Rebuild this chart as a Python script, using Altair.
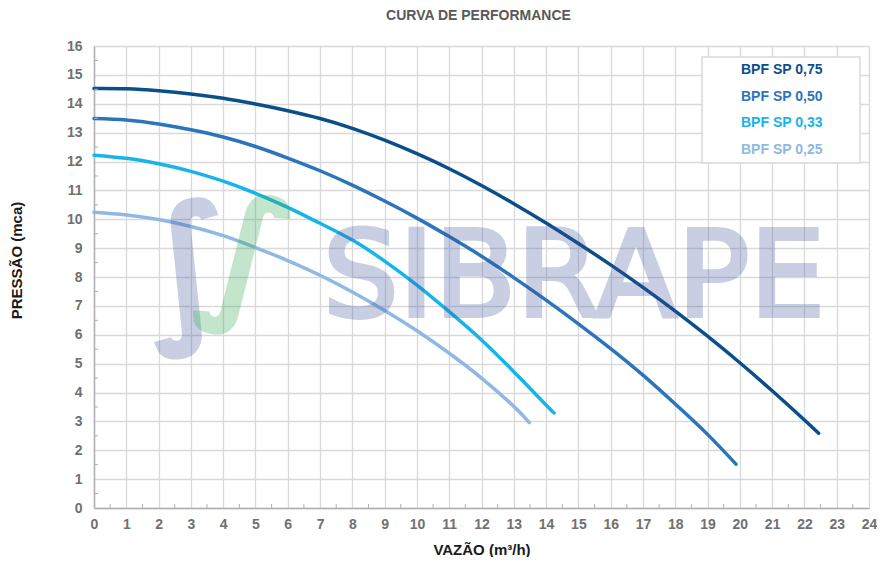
import altair as alt
import pandas as pd

# ---- data ----
series_names = ["BPF SP 0,75", "BPF SP 0,50", "BPF SP 0,33", "BPF SP 0,25"]
series_colors = ["#0b4f8a", "#2c74bb", "#17b4e9", "#8fb9e3"]

q_075 = [0, 1, 2, 3, 4, 5, 6, 7, 8, 9, 10, 11, 12, 13, 14, 15, 16, 17, 18, 19, 20, 21, 22, 22.44]
h_075 = [14.53, 14.52, 14.45, 14.34, 14.19, 13.99, 13.76, 13.49, 13.15, 12.74, 12.27, 11.75, 11.17,
         10.54, 9.87, 9.16, 8.42, 7.64, 6.82, 5.95, 5.03, 4.06, 3.05, 2.59]

q_050 = [0, 1, 2, 3, 4, 5, 6, 7, 8, 9, 10, 11, 12, 13, 14, 15, 16, 17, 18, 19, 19.88]
h_050 = [13.49, 13.44, 13.30, 13.10, 12.85, 12.52, 12.12, 11.68, 11.18, 10.63, 10.04, 9.40, 8.72,
         7.98, 7.20, 6.38, 5.52, 4.60, 3.60, 2.55, 1.52]

q_033 = [0, 1, 2, 3, 4, 5, 6, 7, 8, 9, 10, 11, 12, 13, 14, 14.25]
h_033 = [12.22, 12.11, 11.92, 11.66, 11.32, 10.90, 10.41, 9.86, 9.28, 8.55, 7.72, 6.80, 5.82,
         4.72, 3.57, 3.29]

q_025 = [0, 1, 2, 3, 4, 5, 6, 7, 8, 9, 10, 11, 12, 13, 13.48]
h_025 = [10.24, 10.15, 9.99, 9.75, 9.43, 9.02, 8.57, 8.06, 7.48, 6.84, 6.14, 5.36, 4.50, 3.52, 2.96]

x_ticks = list(range(0, 25))
y_ticks = list(range(0, 17))
x_minor = [0.5, 1.5, 2.5, 3.5, 4.5, 5.5, 6.5, 7.5, 8.5, 9.5, 10.5, 11.5, 12.5, 13.5, 14.5, 15.5,
           16.5, 17.5, 18.5, 19.5, 20.5, 21.5, 22.5, 23.5]
y_minor = [0.5, 1.5, 2.5, 3.5, 4.5, 5.5, 6.5, 7.5, 8.5, 9.5, 10.5, 11.5, 12.5, 13.5, 14.5, 15.5]

rows = []
for name, qs, hs in zip(series_names, [q_075, q_050, q_033, q_025], [h_075, h_050, h_033, h_025]):
    for i, (q, h) in enumerate(zip(qs, hs)):
        rows.append({"serie": name, "q": q, "h": h, "i": i})
df = pd.DataFrame(rows)

W, H = 775, 462
FONT = "Liberation Sans"

xscale = alt.Scale(domain=[0, 24], nice=False, zero=False)
yscale = alt.Scale(domain=[0, 16], nice=False, zero=False)

x_axis = alt.Axis(values=x_ticks, title="VAZÃO (m³/h)", ticks=False, grid=True,
                  labelOverlap=False, labelFlush=False,
                  gridColor="#d9d9d9", gridWidth=1.3, domainColor="#b0b0b0", domainWidth=1.5,
                  labelFont=FONT, labelFontSize=14, labelFontWeight="bold", labelColor="#707070",
                  labelPadding=9, titleFont=FONT, titleFontSize=15, titleFontWeight="bold",
                  titleColor="#1a1a1a", titlePadding=11)
y_axis = alt.Axis(values=y_ticks, title="PRESSÃO (mca)", ticks=False, grid=True,
                  labelOverlap=False, labelFlush=False,
                  gridColor="#d9d9d9", gridWidth=1.3, domainColor="#b0b0b0", domainWidth=1.5,
                  labelFont=FONT, labelFontSize=14, labelFontWeight="bold", labelColor="#707070",
                  labelPadding=12, titleFont=FONT, titleFontSize=15, titleFontWeight="bold",
                  titleColor="#1a1a1a", titleX=-70, titleY=214, titleAngle=-90,
                  titleAlign="center", titleBaseline="bottom")

lines = alt.Chart(df).mark_line(strokeWidth=3.5, strokeCap="round", interpolate="natural").encode(
    x=alt.X("q:Q", scale=xscale, axis=x_axis),
    y=alt.Y("h:Q", scale=yscale, axis=y_axis),
    color=alt.Color("serie:N", scale=alt.Scale(domain=series_names, range=series_colors), legend=None),
    order="i:Q",
)

xminor = alt.Chart(pd.DataFrame({"q": x_minor})).mark_rule(color="#b0b0b0", strokeWidth=1).encode(
    x=alt.X("q:Q", scale=xscale, axis=x_axis), y=alt.value(H), y2=alt.value(H - 4))
yminor = alt.Chart(pd.DataFrame({"h": y_minor})).mark_rule(color="#b0b0b0", strokeWidth=1).encode(
    y=alt.Y("h:Q", scale=yscale, axis=y_axis), x=alt.value(0), x2=alt.value(4))

one = pd.DataFrame({"a": [0]})

# watermark
mark_word = alt.Chart(one).mark_text(text="SIBRAPE", font="DejaVu Sans", fontSize=120, align="center",
                                     baseline="alphabetic", color="#3a4f9c", stroke="#3a4f9c",
                                     strokeWidth=4, opacity=0.27).encode(
    x=alt.value(480), y=alt.value(270))
swirl_b = alt.Chart(one).mark_text(text="∫", font="DejaVu Sans", fontSize=160, fontWeight="bold",
                                   align="center", baseline="middle", color="#3a4f9c", opacity=0.27,
                                   angle=350).encode(x=alt.value(95), y=alt.value(226))
swirl_g = alt.Chart(one).mark_text(text="∫", font="DejaVu Sans", fontSize=150, fontWeight="bold",
                                   align="center", baseline="middle", color="#3caa5a", opacity=0.3,
                                   angle=10).encode(x=alt.value(152), y=alt.value(214))

# legend box
box = alt.Chart(one).mark_rect(fill="white", stroke="#d9d9d9", strokeWidth=1.5).encode(
    x=alt.value(608), x2=alt.value(766), y=alt.value(11), y2=alt.value(117))
leg = []
for k, (name, col) in enumerate(zip(series_names, series_colors)):
    leg.append(alt.Chart(one).mark_text(text=name, font=FONT, fontSize=14, fontWeight="bold",
                                        align="left", baseline="middle", color=col).encode(
        x=alt.value(647), y=alt.value(24 + 26.7 * k)))

chart = alt.layer(lines, xminor, yminor, mark_word, swirl_b, swirl_g, box, *leg).properties(
    width=W, height=H,
    autosize=alt.AutoSizeParams(type="none"),
    padding={"left": 86, "top": 38, "right": 8, "bottom": 49},
    title=alt.TitleParams("CURVA DE PERFORMANCE", font=FONT, fontSize=14, fontWeight="bold",
                          color="#595959", anchor="middle", offset=16, dx=-3),
).configure_view(stroke=None)

chart.save("out.html", embed_options={"renderer": "svg", "actions": False})
